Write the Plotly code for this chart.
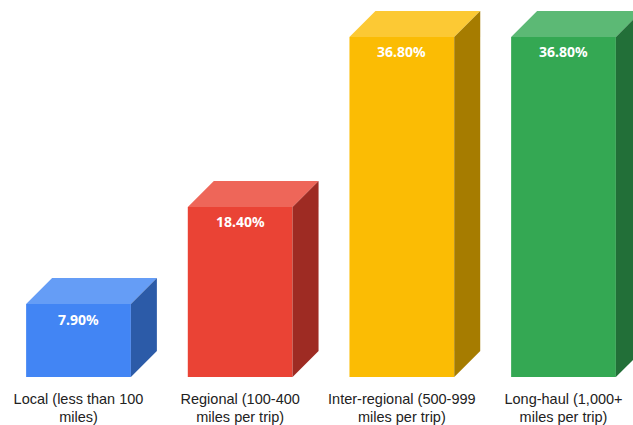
import plotly.graph_objects as go

categories = ["Local (less than 100<br>miles)", "Regional (100-400<br>miles per trip)",
              "Inter-regional (500-999<br>miles per trip)", "Long-haul (1,000+<br>miles per trip)"]
values = [7.9, 18.4, 36.8, 36.8]
labels = ["7.90%", "18.40%", "36.80%", "36.80%"]
front_colors = ["#4285F4", "#EA4335", "#FBBC04", "#34A853"]
top_colors = ["#659DF6", "#EE6659", "#FCC934", "#5CB975"]
side_colors = ["#2C5BA8", "#9E2B23", "#A67C00", "#226F38"]

W, H = 633, 425
BOTTOM = 48
PX_PER_CAT = 161.67
PX_PER_UNIT = 9.24
FIRST_CENTER = 78.5
DEPTH = 26
BARGAP = 0.352

half = (1 - BARGAP) / 2
dx = DEPTH / PX_PER_CAT
dy = DEPTH / PX_PER_UNIT
positions = list(range(len(values)))

fig = go.Figure()
for i, v in zip(positions, values):
    fig.add_trace(go.Scatter(
        x=[i - half, i + half, i + half + dx, i - half + dx, i - half],
        y=[v, v, v + dy, v + dy, v],
        mode="lines", line=dict(width=0), fill="toself",
        fillcolor=top_colors[i], hoverinfo="skip", showlegend=False))
    fig.add_trace(go.Scatter(
        x=[i + half, i + half + dx, i + half + dx, i + half, i + half],
        y=[0, dy, v + dy, v, 0],
        mode="lines", line=dict(width=0), fill="toself",
        fillcolor=side_colors[i], hoverinfo="skip", showlegend=False))

fig.add_trace(go.Bar(x=positions, y=values, marker=dict(color=front_colors, line=dict(width=0)),
                     showlegend=False))

for i, v in zip(positions, values):
    fig.add_annotation(x=i, y=v, text=labels[i], showarrow=False, yshift=-15, yanchor="middle",
                       font=dict(family="Noto Sans", size=14, color="#FFFFFF", weight="bold"))

fig.update_layout(
    width=W, height=H, autosize=False,
    margin=dict(l=0, r=0, t=0, b=BOTTOM, pad=0),
    paper_bgcolor="#FFFFFF", plot_bgcolor="#FFFFFF",
    bargap=BARGAP,
    xaxis=dict(range=[-FIRST_CENTER / PX_PER_CAT, (W - FIRST_CENTER) / PX_PER_CAT],
               automargin=False,
               tickmode="array", tickvals=positions, ticktext=categories,
               showgrid=False, zeroline=False, showline=False, ticks="",
               ticklabelstandoff=11,
               tickfont=dict(family="Liberation Sans", size=14.5, color="#222222")),
    yaxis=dict(range=[0, (H - BOTTOM) / PX_PER_UNIT], visible=False, showgrid=False, zeroline=False,
               automargin=False),
)
fig.write_html("out.html", config=dict(displayModeBar=False),
               post_script="document.body.style.margin='0';window.dispatchEvent(new Event('resize'));")
